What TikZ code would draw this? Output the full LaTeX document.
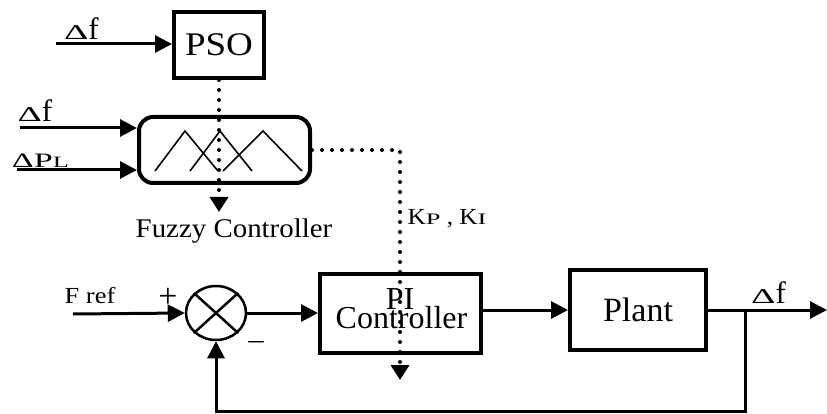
\documentclass[tikz,border=0pt]{standalone}
\usepackage{fontspec}
\setmainfont{Liberation Serif}
\usepackage{graphicx}
\usetikzlibrary{arrows.meta,shapes.geometric}
\newcommand{\hs}[2]{\scalebox{#1}[1]{#2}}
\newcommand{\fs}[1]{\fontsize{#1}{#1}\selectfont}
\newcommand{\dlt}{\scalebox{1.22}[0.68]{Δ}}
\begin{document}
\begin{tikzpicture}[x=1pt,y=-1pt,
  blk/.style={draw, line width=4pt, inner sep=0pt},
  arr/.style={line width=3pt, -{Triangle[length=17pt,width=17pt]}},
  ln/.style={line width=3pt},
  dotl/.style={line width=4pt, line cap=round, dash pattern=on 0pt off 10pt},
  darr/.style={dotl, -{Triangle[length=15pt,width=18pt]}},
  lbl/.style={inner sep=0pt, anchor=base}]
\useasboundingbox (0,0) rectangle (827,414);

% blocks
\node[blk, minimum width=90pt, minimum height=66pt, font=\fs{33}] (pso) at (219,45) {\hs{1.12}{PSO}};
\node[blk, rounded corners=14pt, minimum width=171pt, minimum height=66pt] (fz) at (224.5,150) {};
\node[blk, minimum width=161pt, minimum height=79pt] (pi) at (400.5,313.5) {};
\node[blk, minimum width=136pt, minimum height=80pt, font=\fs{34}] (plant) at (638,310) {Plant};
\node[draw, ellipse, line width=2.5pt, minimum width=60pt, minimum height=54pt, inner sep=0pt] (sum) at (216,313) {};
\draw[line width=2.5pt] (sum.north west) -- (sum.south east);
\draw[line width=2.5pt] (sum.north east) -- (sum.south west);

% membership functions
\draw[line width=1.6pt] (155,171) -- (185,131) -- (218,171);
\draw[line width=1.6pt] (190,171) -- (220,131) -- (252,171);
\draw[line width=1.6pt] (223,171) -- (263,131) -- (302,171);

% texts
\node[lbl, font=\fs{32}] (pit) at (400,309) {PI};
\node[lbl, font=\fs{32}] (ctt) at (401.5,328) {Controller};
\node[lbl, font=\fs{27}] (fzl) at (234,237) {\hs{1.07}{Fuzzy Controller}};
\node[lbl, font=\fs{31}] (df1) at (81.5,40) {\dlt f};
\node[lbl, font=\fs{31}] (df2) at (35,122) {\dlt f};
\node[lbl] (dpl) at (40.5,168) {\scalebox{1.1}[0.66]{\fs{31}ΔP{\fs{24}L}}};
\node[lbl, font=\fs{31}] (df3) at (768.5,303) {\dlt f};
\node[lbl, font=\fs{23}] (frl) at (90,303) {\hs{1.15}{F ref}};
\node[lbl, font=\fs{23}] (kpl) at (447,225) {\hs{1.1}{K\hs{1.5}{\fs{16}P} , K\hs{1.5}{\fs{16}I}}};
\node[inner sep=0pt, font=\fs{34}] (plus) at (168,297.5) {+};
\node[inner sep=0pt, font=\fs{28}] (minus) at (256,347) {\hs{1.2}{−}};

% inputs
\coordinate (in1) at (56,44);
\coordinate (in2) at (20,128);
\coordinate (in3) at (17,170);
\draw[arr] (in1) -- (pso.west |- in1);
\draw[arr] (in2) -- (fz.west |- in2);
\draw[arr] (in3) -- (fz.west |- in3);

% dotted signals
\coordinate (fzend) at (219,212);
\draw[darr] (pso.south) -- (fzend);
\coordinate (kc) at (400,150);
\coordinate (kend) at (400,380);
\draw[darr] (fz.east) -- (kc) -- (kend);

% main loop
\coordinate (fref) at (73,314);
\draw[arr] (fref) -- (sum.west);
\draw[arr] (sum.east) -- (pi.west |- sum.east);
\draw[arr] (pi.east |- plant.west) -- (plant.west);
\coordinate (br) at (745,310);
\coordinate (out) at (827,310);
\draw[ln] (plant.east) -- (br);
\draw[arr] (br) -- (out);
\coordinate (fbb) at (745,411);
\draw[arr] (br) -- (fbb) -| (sum.south);
\end{tikzpicture}
\end{document}
